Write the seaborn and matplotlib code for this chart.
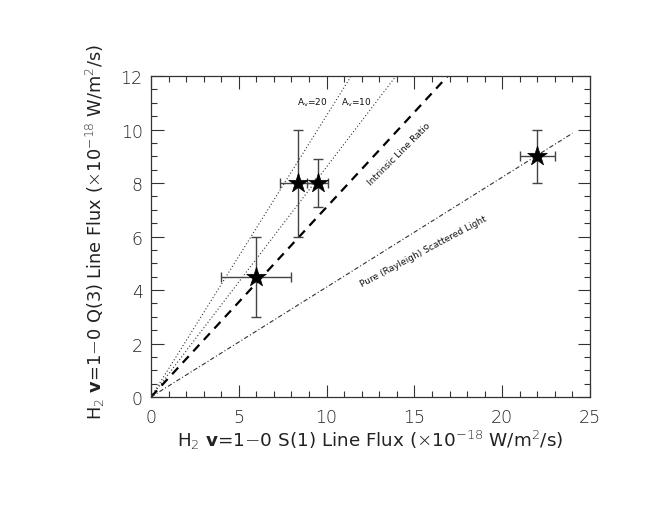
import matplotlib
matplotlib.use("Agg")
import matplotlib.pyplot as plt
import seaborn as sns
import pandas as pd
import numpy as np
from matplotlib.ticker import MultipleLocator

# data points
s1_flux = [6.0, 8.35, 9.5, 22.0]
s1_err = [2.0, 1.0, 0.6, 1.0]
q3_flux = [4.5, 8.0, 8.0, 9.0]
q3_err = [1.5, 2.0, 0.9, 1.0]

# model lines (endpoints)
line_names = ["A_v=20", "A_v=10", "Intrinsic", "Rayleigh"]
line_x = [[0, 11.4], [0, 13.95], [0, 16.9], [0, 24.0]]
line_y = [[0, 12.0], [0, 12.0], [0, 12.0], [0, 9.86]]

sns.set_style("ticks")
plt.rcParams['font.family'] = ['DejaVu Sans']
plt.rcParams['font.weight'] = 'light'
plt.rcParams['mathtext.fontset'] = 'custom'
plt.rcParams['mathtext.rm'] = 'DejaVu Sans:light'
plt.rcParams['mathtext.it'] = 'DejaVu Sans:light'
plt.rcParams['mathtext.bf'] = 'DejaVu Sans:bold'

fig = plt.figure(figsize=(6.67, 5.1), dpi=100)
ax = fig.add_axes([0.2264, 0.2196, 0.8846 - 0.2264, 0.849 - 0.2196])

styles = {
    "A_v=20": dict(ls=(0, (1, 2)), lw=0.8, color="#333333"),
    "A_v=10": dict(ls=(0, (1, 2)), lw=0.8, color="#333333"),
    "Intrinsic": dict(ls=(0, (4, 3)), lw=1.6, color="black"),
    "Rayleigh": dict(ls=(0, (4, 2, 1, 2)), lw=0.8, color="#333333"),
}
for name, xs, ys in zip(line_names, line_x, line_y):
    df = pd.DataFrame({"x": xs, "y": ys})
    sns.lineplot(data=df, x="x", y="y", ax=ax, linestyle=styles[name]["ls"],
                 lw=styles[name]["lw"], color=styles[name]["color"], legend=False)

ax.errorbar(s1_flux, q3_flux, xerr=s1_err, yerr=q3_err, fmt="none",
            ecolor="#444444", elinewidth=1.0, capsize=3.5, capthick=1.0, zorder=3)
pts = pd.DataFrame({"x": s1_flux, "y": q3_flux})
sns.scatterplot(data=pts, x="x", y="y", ax=ax, marker="*", s=220,
                color="black", edgecolor="black", linewidth=0.5, zorder=4, legend=False)

ann = dict(fontsize=6.5, fontweight="normal", color="#111111",
           ha="center", va="center")
ax.text(9.2, 11.05, r"A$_\mathregular{v}$=20", **ann)
ax.text(11.7, 11.05, r"A$_\mathregular{v}$=10", **ann)
ax.text(14.1, 9.1, "Intrinsic Line Ratio", rotation=45, **ann)
ax.text(15.5, 5.45, "Pure (Rayleigh) Scattered Light", rotation=28, **ann)

ax.set_xlim(0, 25)
ax.set_ylim(0, 12)
ax.xaxis.set_major_locator(MultipleLocator(5))
ax.xaxis.set_minor_locator(MultipleLocator(1))
ax.yaxis.set_major_locator(MultipleLocator(2))
ax.yaxis.set_minor_locator(MultipleLocator(0.5))
ax.tick_params(which="both", direction="in", top=True, right=True,
               color="#333333", width=0.8)
ax.tick_params(which="major", length=9, labelsize=12.5, labelcolor="#222222")
ax.tick_params(which="minor", length=4.5)
ax.tick_params(axis="x", which="major", pad=8)
ax.tick_params(axis="y", which="major", pad=6)
for sp in ax.spines.values():
    sp.set_linewidth(0.9)
    sp.set_color("#333333")

ax.set_xlabel(r"H$_2$ $\mathbf{v}$=1$-$0 S(1) Line Flux ($\times$10$^{-18}$ W/m$^2$/s)",
              fontsize=13.2, color="#222222", labelpad=1)
ax.set_ylabel(r"H$_2$ $\mathbf{v}$=1$-$0 Q(3) Line Flux ($\times$10$^{-18}$ W/m$^2$/s)",
              fontsize=12.8, color="#222222", labelpad=6)
ax.yaxis.set_label_coords(-0.1, 0.517)

fig.savefig("out.png", dpi=100)
